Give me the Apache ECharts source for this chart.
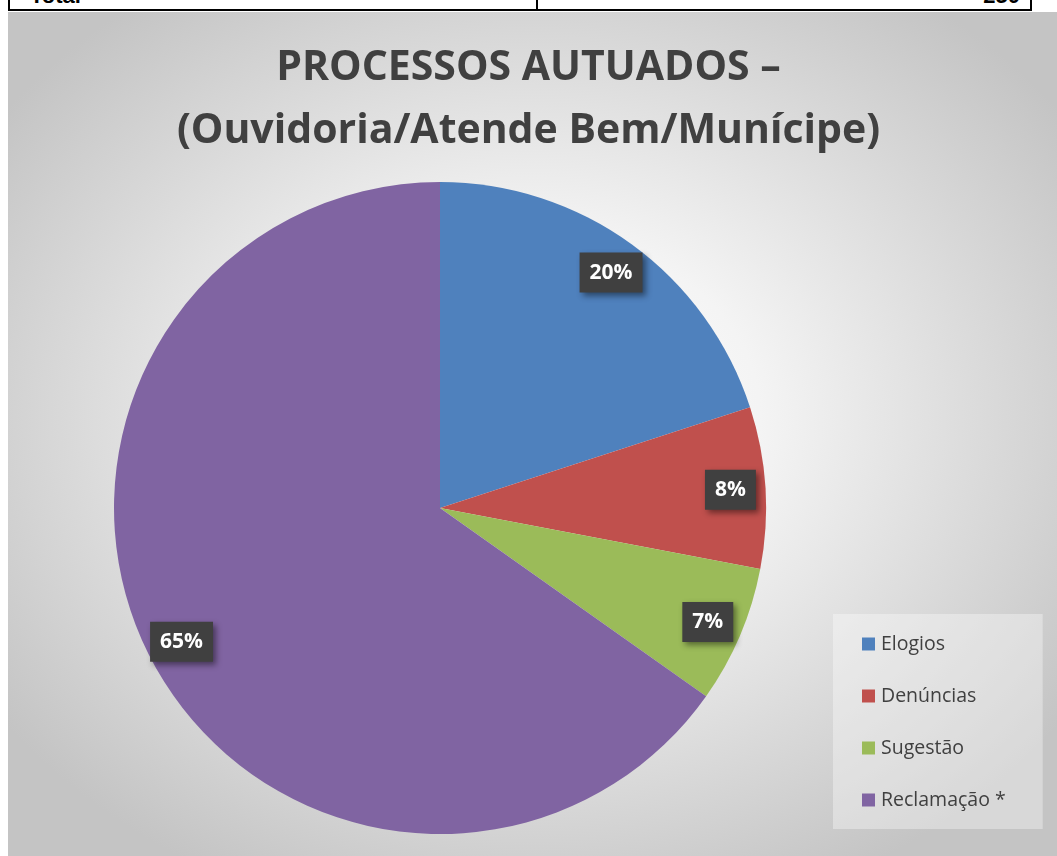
<!DOCTYPE html>
<html>
<head>
<meta charset="utf-8">
<script src="https://cdn.jsdelivr.net/npm/echarts@6/dist/echarts.min.js"></script>
<style>
  html, body { margin: 0; padding: 0; background: #fff; }
  body { width: 1057px; height: 856px; position: relative; overflow: hidden; font-family: "Open Sans", sans-serif; }
  #tableRow {
    position: absolute; left: 8px; top: 0; width: 1020px; height: 9px;
    border: 2px solid #000; border-top: none; overflow: hidden;
  }
  #tableRow .cell { position: absolute; top: -17px; font: bold 22px "Liberation Sans", Arial, sans-serif; color: #000; }
  #divider { position: absolute; left: 536px; top: 0; width: 2px; height: 11px; background: #000; }
  #bg {
    position: absolute; left: 8px; top: 12px; right: 0; bottom: 0;
    background: radial-gradient(ellipse 62% 62% at 50% 48%, #ffffff 0%, #f4f4f4 35%, #dadada 70%, #c4c4c4 100%);
  }
  #chart-container { position: absolute; left: 0; top: 0; width: 1057px; height: 856px; }
</style>
</head>
<body>
<div id="tableRow">
  <span class="cell" style="left: 20px;">Total</span>
  <span class="cell" style="right: 10px;">250</span>
</div>
<div id="divider"></div>
<div id="bg"></div>
<div id="chart-container"></div>
<script>
const categories = ["Elogios", "Denúncias", "Sugestão", "Reclamação *"];
const counts = [50, 20, 17, 163];
const colors = ["#4f81bd", "#c0504d", "#9bbb59", "#8064a2"];

const titleText = "PROCESSOS AUTUADOS –\n(Ouvidoria/Atende Bem/Munícipe)";

let dom = document.getElementById("chart-container");
let myChart = echarts.init(dom, null, { renderer: "canvas" });

let pieData = categories.map((name, i) => ({
  name: name,
  value: counts[i],
  itemStyle: { color: colors[i] }
}));

let option = {
  backgroundColor: "transparent",
  animation: false,
  title: {
    text: titleText,
    left: "center",
    top: 32,
    textStyle: {
      fontFamily: "Open Sans",
      fontWeight: "bold",
      fontSize: 41,
      lineHeight: 63,
      color: "#404040"
    }
  },
  legend: {
    orient: "vertical",
    left: 833,
    top: 614,
    data: categories,
    icon: "rect",
    itemWidth: 13,
    itemHeight: 13,
    itemGap: 32,
    padding: [20, 37, 19, 29],
    backgroundColor: "rgba(255,255,255,0.35)",
    textStyle: {
      fontFamily: "Open Sans",
      fontSize: 19.5,
      color: "#404040",
      padding: [0, 0, 0, 1]
    }
  },
  series: [
    {
      type: "pie",
      center: [440, 508],
      radius: [0, 326],
      startAngle: 90,
      clockwise: true,
      data: pieData,
      label: { show: false },
      labelLine: { show: false },
      itemStyle: { borderWidth: 0 },
      emphasis: { disabled: true }
    },
    {
      // transparent ring only used to place the percent labels near the rim
      type: "pie",
      center: [440, 508],
      radius: [250, 326],
      startAngle: 90,
      clockwise: true,
      silent: true,
      percentPrecision: 0,
      data: categories.map((name, i) => ({ name: name, value: counts[i] })),
      itemStyle: { color: "rgba(0,0,0,0)" },
      label: {
        show: true,
        position: "inside",
        formatter: "{d}%",
        fontFamily: "Open Sans",
        fontWeight: "bold",
        fontSize: 21,
        color: "#ffffff",
        backgroundColor: "#404040",
        padding: [10, 10, 9, 10],
        shadowBlur: 6,
        shadowColor: "rgba(0,0,0,0.45)",
        shadowOffsetX: 3,
        shadowOffsetY: 3
      },
      labelLine: { show: false },
      emphasis: { disabled: true },
      z: 3
    }
  ]
};

myChart.setOption(option);
window.addEventListener("resize", myChart.resize);
</script>
</body>
</html>
